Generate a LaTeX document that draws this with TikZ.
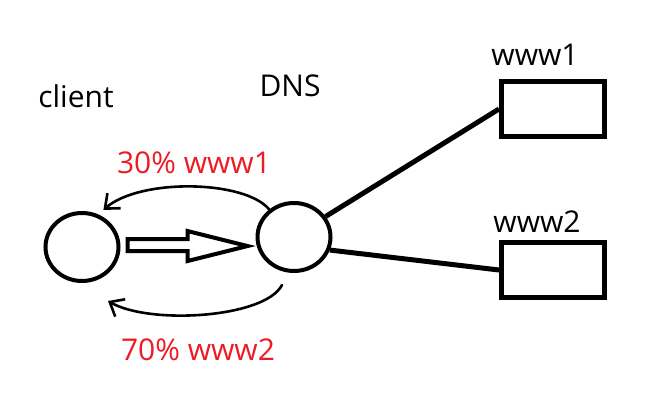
\documentclass[tikz,border=0pt]{standalone}
\usepackage{fontspec}
\setsansfont{Open Sans}
\usetikzlibrary{shapes.geometric,arrows.meta,calc}
\definecolor{sharered}{RGB}{237,28,36}
\begin{document}
\begin{tikzpicture}[x=0.5pt, y=-0.5pt, font=\sffamily\fontsize{15}{18}\selectfont,
	host/.style={draw, ellipse, line width=2pt, minimum width=36.5pt, minimum height=34pt, inner sep=0pt},
	server/.style={draw, rectangle, line width=2.5pt, minimum width=51.5pt, minimum height=27.5pt, inner sep=0pt},
	link/.style={line width=2.5pt},
	query/.style={line width=2pt, line join=miter},
	reply/.style={line width=1.3pt, line cap=round, -{Straight Barb[length=6pt, width=10pt]}},
	share/.style={text=sharered, anchor=base}]
	\useasboundingbox (0,0) rectangle (657,417);
	%hosts
	\node[host] (client) at (82,247) {};
	\node[host] (dns) at (294,237) {};
	%servers
	\foreach \name/\y in {www1/109, www2/270}
	\node[server] (\name) at (553,\y) {};
	%titles
	\node[anchor=base] (client title) at (76,107) {client};
	\node[anchor=base] (dns title) at (290,97) {DNS};
	\node[anchor=base] (www1 title) at (535,66) {www1};
	\node[anchor=base] (www2 title) at (537,232) {www2};
	%links
	\draw[link] (dns.33) -- (www1.west);
	\draw[link] (dns.-20) -- (www2.west);
	%query
	\draw[query] ($(client.east)+(7,-8)$) -- ++(60,0) -- ++(0,-8)
		-- ($(dns.west)+(-8,9)$) -- ($(client.east)+(67,14)$)
		-- ++(0,-10) -- ++(-60,0) -- cycle;
	%replies
	\draw[reply] (dns.132) .. controls (245,180) and (140,178) .. ($(client.58)+(2,-6)$);
	\draw[reply] ($(dns.south)+(-12,12)$) .. controls (265,318) and (150,325) .. ($(client.south)+(26,18)$);
	\node[share] (share1) at (194,173) {30\% www1};
	\node[share] (share2) at (198,360) {70\% www2};
\end{tikzpicture}
\end{document}
